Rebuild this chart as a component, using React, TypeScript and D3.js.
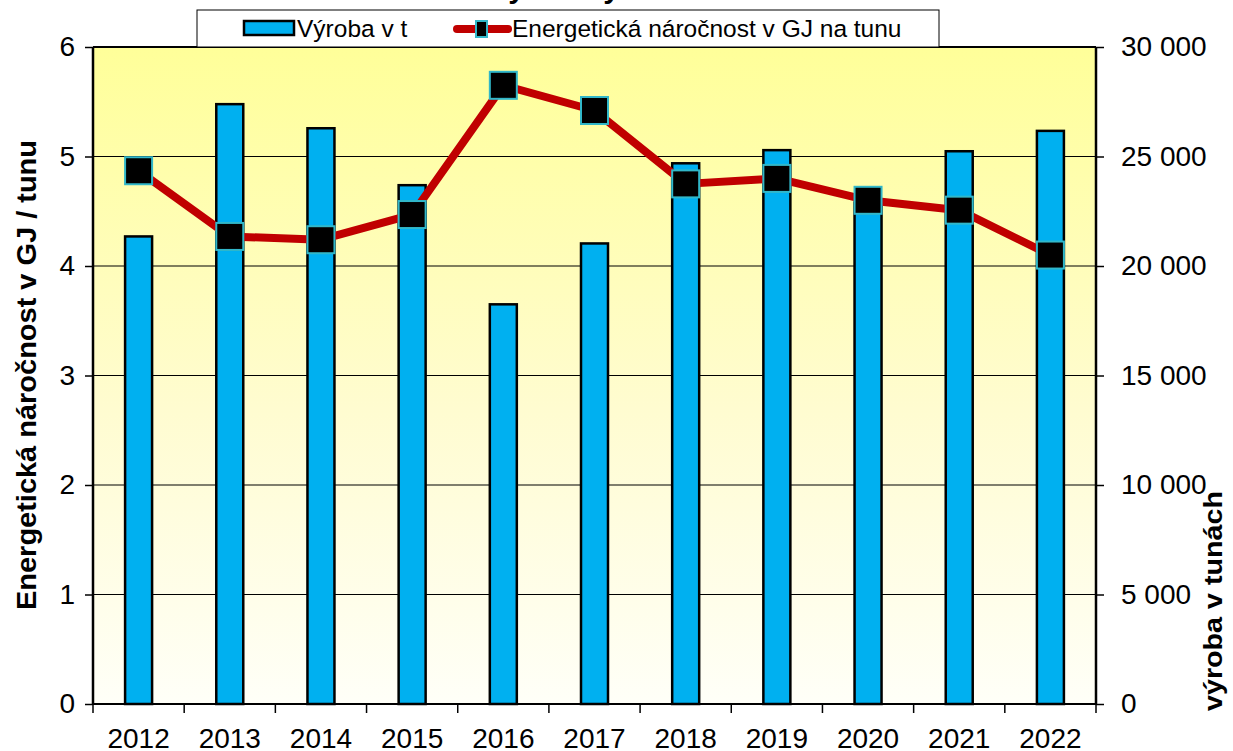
import React, { useRef, useEffect } from 'react';
import * as d3 from 'd3';

const years = ['2012', '2013', '2014', '2015', '2016', '2017', '2018', '2019', '2020', '2021', '2022'];
const vyroba = [21350, 27390, 26290, 23690, 18250, 21030, 24690, 25290, 22900, 25240, 26170];
const narocnost = [4.87, 4.27, 4.24, 4.47, 5.65, 5.42, 4.75, 4.8, 4.6, 4.51, 4.1];
const leftTicks = [0, 1, 2, 3, 4, 5, 6];
const rightTicks = [0, 5000, 10000, 15000, 20000, 25000, 30000];

const FONT = 'Liberation Sans, Arial, sans-serif';

const App = () => {
    const ref = useRef<SVGSVGElement>(null);

    useEffect(() => {
        const svg = d3.select(ref.current)
            .attr('width', 1233)
            .attr('height', 751);

        svg.selectAll('*').remove();

        const left = 93, right = 1096, top = 47, bottom = 704;

        const x = d3.scaleBand<string>()
            .domain(years)
            .range([left, right]);

        const yL = d3.scaleLinear().domain([0, 6]).range([bottom, top]);
        const yR = d3.scaleLinear().domain([0, 30000]).range([bottom, top]);

        // background gradient
        const defs = svg.append('defs');
        const grad = defs.append('linearGradient')
            .attr('id', 'bg')
            .attr('x1', 0).attr('y1', 0).attr('x2', 0).attr('y2', 1);
        grad.append('stop').attr('offset', '0%').attr('stop-color', '#ffff99');
        grad.append('stop').attr('offset', '55%').attr('stop-color', '#fffcd0');
        grad.append('stop').attr('offset', '100%').attr('stop-color', '#fffff8');

        svg.append('rect')
            .attr('x', left).attr('y', top)
            .attr('width', right - left).attr('height', bottom - top)
            .attr('fill', 'url(#bg)');

        // title, mostly above the visible area
        svg.append('text')
            .attr('x', 445).attr('y', -2)
            .attr('font-family', FONT).attr('font-size', 30).attr('font-weight', 'bold')
            .text('Lomy a doly');

        // gridlines
        svg.append('g')
            .selectAll('line')
            .data(leftTicks.slice(1))
            .enter().append('line')
            .attr('x1', left).attr('x2', right)
            .attr('y1', d => yL(d)).attr('y2', d => yL(d))
            .attr('stroke', '#000').attr('stroke-width', 1.2);

        // bars
        const bw = 27;
        svg.append('g')
            .selectAll('rect')
            .data(vyroba)
            .enter().append('rect')
            .attr('x', (d, i) => x(years[i])! + x.bandwidth() / 2 - bw / 2)
            .attr('y', d => yR(d))
            .attr('width', bw)
            .attr('height', d => bottom - yR(d))
            .attr('fill', '#00b0f0')
            .attr('stroke', '#000')
            .attr('stroke-width', 2.5);

        // plot frame
        svg.append('line')
            .attr('x1', left).attr('x2', right).attr('y1', top).attr('y2', top)
            .attr('stroke', '#000').attr('stroke-width', 2);
        svg.append('line')
            .attr('x1', left).attr('x2', left).attr('y1', top).attr('y2', bottom)
            .attr('stroke', '#000').attr('stroke-width', 2.5);
        svg.append('line')
            .attr('x1', right).attr('x2', right).attr('y1', top).attr('y2', bottom)
            .attr('stroke', '#000').attr('stroke-width', 2.5);

        // line series
        const line = d3.line<number>()
            .x((d, i) => x(years[i])! + x.bandwidth() / 2)
            .y(d => yL(d));

        svg.append('path')
            .datum(narocnost)
            .attr('d', line)
            .attr('fill', 'none')
            .attr('stroke', '#c00000')
            .attr('stroke-width', 8)
            .attr('stroke-linejoin', 'round');

        const ms = 27;
        svg.append('g')
            .selectAll('rect')
            .data(narocnost)
            .enter().append('rect')
            .attr('x', (d, i) => x(years[i])! + x.bandwidth() / 2 - ms / 2)
            .attr('y', d => yL(d) - ms / 2)
            .attr('width', ms).attr('height', ms)
            .attr('fill', '#000')
            .attr('stroke', '#31b7c9')
            .attr('stroke-width', 2);

        // axes
        const fmt = (d: number) => d3.format(',')(d).replace(/,/g, ' ');

        const axL = svg.append('g')
            .attr('transform', `translate(${left},0)`)
            .call(d3.axisLeft(yL).tickValues(leftTicks).tickSize(8).tickPadding(10).tickFormat(d3.format('d')));
        const axR = svg.append('g')
            .attr('transform', `translate(${right},0)`)
            .call(d3.axisRight(yR).tickValues(rightTicks).tickSize(8).tickPadding(17).tickFormat(d => fmt(+d)));
        const axB = svg.append('g')
            .attr('transform', `translate(0,${bottom})`)
            .call(d3.axisBottom(x).tickSize(0).tickPadding(24));

        [axL, axR, axB].forEach(a => {
            a.select('.domain').remove();
            a.selectAll('text')
                .attr('font-family', FONT)
                .attr('font-size', 28)
                .attr('fill', '#000');
            a.selectAll('line').attr('stroke', '#000').attr('stroke-width', 1.5);
        });

        // x axis line and category boundary ticks
        svg.append('line')
            .attr('x1', left).attr('x2', right).attr('y1', bottom).attr('y2', bottom)
            .attr('stroke', '#000').attr('stroke-width', 2);
        svg.append('g')
            .selectAll('line')
            .data(years)
            .enter().append('line')
            .attr('x1', d => x(d)!).attr('x2', d => x(d)!)
            .attr('y1', bottom).attr('y2', bottom + 9)
            .attr('stroke', '#000').attr('stroke-width', 1.5);
        svg.append('line')
            .attr('x1', right).attr('x2', right).attr('y1', bottom).attr('y2', bottom + 9)
            .attr('stroke', '#000').attr('stroke-width', 1.5);

        // axis titles
        svg.append('text')
            .attr('transform', 'translate(36,375) rotate(-90)')
            .attr('text-anchor', 'middle')
            .attr('font-family', FONT).attr('font-size', 27).attr('font-weight', 'bold')
            .attr('textLength', 470).attr('lengthAdjust', 'spacingAndGlyphs')
            .text('Energetická náročnost v GJ / tunu');
        svg.append('text')
            .attr('transform', 'translate(1222,601) rotate(-90)')
            .attr('text-anchor', 'middle')
            .attr('font-family', FONT).attr('font-size', 25).attr('font-weight', 'bold')
            .attr('textLength', 220).attr('lengthAdjust', 'spacingAndGlyphs')
            .text('výroba v tunách');

        // legend
        const lg = svg.append('g');
        lg.append('rect')
            .attr('x', 197).attr('y', 10)
            .attr('width', 742).attr('height', 37)
            .attr('fill', '#fff').attr('stroke', '#000').attr('stroke-width', 1);
        lg.append('rect')
            .attr('x', 244).attr('y', 21)
            .attr('width', 50).attr('height', 14)
            .attr('fill', '#00b0f0').attr('stroke', '#000').attr('stroke-width', 2.5);
        lg.append('text')
            .attr('x', 297).attr('y', 37)
            .attr('font-family', FONT).attr('font-size', 24.5)
            .text('Výroba v t');
        lg.append('line')
            .attr('x1', 457).attr('x2', 508).attr('y1', 29).attr('y2', 29)
            .attr('stroke', '#c00000').attr('stroke-width', 8).attr('stroke-linecap', 'round');
        lg.append('rect')
            .attr('x', 476).attr('y', 21)
            .attr('width', 11).attr('height', 16)
            .attr('fill', '#000').attr('stroke', '#31b7c9').attr('stroke-width', 2);
        lg.append('text')
            .attr('x', 512).attr('y', 37)
            .attr('font-family', FONT).attr('font-size', 24.5)
            .text('Energetická náročnost v GJ na tunu');
    }, []);

    return (
        <svg ref={ref} style={{ position: 'absolute', left: 0, top: 0 }}></svg>
    );
};

export default App;
